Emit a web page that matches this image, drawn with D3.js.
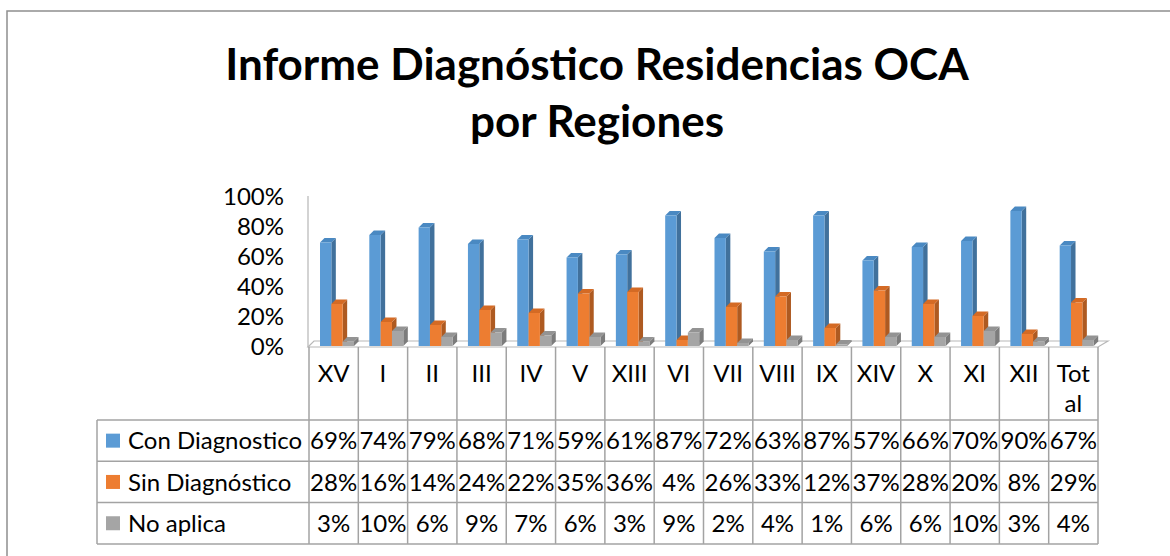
<!DOCTYPE html>
<html>
<head>
<meta charset="utf-8">
<script src="https://cdn.jsdelivr.net/npm/d3@7"></script>
<style>
  body { margin: 0; background: #fff; }
  svg text { font-family: Lato, "Open Sans", sans-serif; fill: #000; }
</style>
</head>
<body>
<div class="content"></div>
<script>
const regions = ["XV", "I", "II", "III", "IV", "V", "XIII", "VI", "VII", "VIII", "IX", "XIV", "X", "XI", "XII", "Total"];
const seriesNames = ["Con Diagnostico", "Sin Diagnóstico", "No aplica"];
const conDiag = [69, 74, 79, 68, 71, 59, 61, 87, 72, 63, 87, 57, 66, 70, 90, 67];
const sinDiag = [28, 16, 14, 24, 22, 35, 36, 4, 26, 33, 12, 37, 28, 20, 8, 29];
const noAplica = [3, 10, 6, 9, 7, 6, 3, 9, 2, 4, 1, 6, 6, 10, 3, 4];
const yTicks = [0, 20, 40, 60, 80, 100];

const seriesValues = [conDiag, sinDiag, noAplica];
const colors = ["#5B9BD5", "#ED7D31", "#A5A5A5"];
const sideColors = ["#41719C", "#AE5A21", "#7C7C7C"];
const topColors = ["#4A89C2", "#D46A24", "#939393"];

const W = 1170, H = 556;
const plotLeft = 309, plotRight = 1098;
const yTop = 196, yBase = 346;
const depth = 4.5;
const fs = "24px";

const svg = d3.select(".content").append("svg")
  .attr("width", W).attr("height", H);

//--> outer chart border
svg.append("rect")
  .attr("x", 7).attr("y", 11)
  .attr("width", W + 20).attr("height", H + 20)
  .attr("fill", "none").attr("stroke", "#8f8f8f").attr("stroke-width", 1.5);

//--> title
const title = svg.append("text")
  .attr("text-anchor", "middle")
  .style("font-weight", "bold")
  .style("font-size", "44px");
title.append("tspan").attr("x", 597).attr("y", 80).text("Informe Diagnóstico Residencias OCA");
title.append("tspan").attr("x", 597).attr("y", 137).text("por Regiones");

//--> scales
const x0 = d3.scaleBand().domain(regions).range([plotLeft, plotRight]);
const x1 = d3.scaleBand().domain(seriesNames).range([11, 45]);
const y = d3.scaleLinear().domain([0, 100]).range([yBase, yTop]);

//--> y axis labels
const yAxis = d3.axisLeft(y).tickValues(yTicks).tickSize(0).tickPadding(0)
  .tickFormat(d => d + "%");
const yG = svg.append("g").attr("transform", `translate(284,0)`).call(yAxis);
yG.select(".domain").remove();
yG.selectAll("text").style("font-size", fs).attr("dy", "0.35em");

//--> axis wall line + floor
svg.append("line")
  .attr("x1", plotLeft - 1).attr("x2", plotLeft - 1)
  .attr("y1", yTop).attr("y2", yBase + 1)
  .attr("stroke", "#c4c4c4").attr("stroke-width", 1.5);
svg.append("path")
  .attr("d", `M${plotLeft - 1},${yBase + 1} L${plotLeft + 5},${yBase - 5} L${plotRight + 10},${yBase - 5} L${plotRight},${yBase + 1} Z`)
  .attr("fill", "#fff").attr("stroke", "#b8b8b8").attr("stroke-width", 1.2);

//--> bars (pseudo 3D)
const barsData = [];
regions.forEach((r, i) => {
  seriesNames.forEach((s, j) => {
    barsData.push({ region: r, series: s, idx: j, value: seriesValues[j][i] });
  });
});
const bw = x1.bandwidth();
const bars = svg.append("g").selectAll("g.bar").data(barsData).enter()
  .append("g").attr("class", "bar")
  .attr("transform", d => `translate(${x0(d.region) + x1(d.series)},0)`);

bars.append("path")
  .attr("d", d => {
    const t = y(d.value);
    return `M${bw},${t} L${bw + depth},${t - depth} L${bw + depth},${yBase - depth} L${bw},${yBase} Z`;
  })
  .attr("fill", d => sideColors[d.idx]);
bars.append("path")
  .attr("d", d => {
    const t = y(d.value);
    return `M0,${t} L${depth},${t - depth} L${bw + depth},${t - depth} L${bw},${t} Z`;
  })
  .attr("fill", d => topColors[d.idx]);
bars.append("rect")
  .attr("x", 0).attr("width", bw)
  .attr("y", d => y(d.value))
  .attr("height", d => yBase - y(d.value))
  .attr("fill", d => colors[d.idx]);

//--> data table
const tableLeft = 97;
const headTop = yBase + 1, headBottom = 420;
const rowH = 41.3;
const gridColor = "#a3a3a3";
const grid = svg.append("g").attr("stroke", gridColor).attr("stroke-width", 1.5);

// vertical column lines
regions.concat(["__end"]).forEach(r => {
  const xx = r === "__end" ? plotRight : x0(r);
  grid.append("line")
    .attr("x1", xx).attr("x2", xx)
    .attr("y1", headTop).attr("y2", headBottom + rowH * 3);
});
// horizontal row lines
[0, 1, 2, 3].forEach(k => {
  grid.append("line")
    .attr("x1", tableLeft).attr("x2", plotRight)
    .attr("y1", headBottom + k * rowH).attr("y2", headBottom + k * rowH);
});
grid.append("line")
  .attr("x1", tableLeft).attr("x2", tableLeft)
  .attr("y1", headBottom).attr("y2", headBottom + rowH * 3);

// category labels
const catLabels = svg.append("g").selectAll("text").data(regions).enter()
  .append("text")
  .attr("text-anchor", "middle")
  .style("font-size", fs)
  .attr("x", d => x0(d) + x0.bandwidth() / 2)
  .attr("y", 382);
catLabels.each(function (d) {
  const t = d3.select(this);
  if (d === "Total") {
    t.append("tspan").attr("x", t.attr("x")).attr("y", 382).text("Tot");
    t.append("tspan").attr("x", t.attr("x")).attr("y", 412).text("al");
  } else {
    t.text(d);
  }
});

// series rows
seriesNames.forEach((s, j) => {
  const cy = headBottom + j * rowH + rowH / 2;
  svg.append("rect")
    .attr("x", 106).attr("y", cy - 7)
    .attr("width", 14).attr("height", 14)
    .attr("fill", colors[j]);
  svg.append("text")
    .attr("x", 128).attr("y", cy).attr("dy", "0.36em")
    .style("font-size", fs)
    .text(s);
  svg.append("g").selectAll("text").data(regions).enter()
    .append("text")
    .attr("text-anchor", "middle")
    .attr("x", d => x0(d) + x0.bandwidth() / 2)
    .attr("y", cy).attr("dy", "0.36em")
    .style("font-size", fs)
    .text((d, i) => seriesValues[j][i] + "%");
});
</script>
</body>
</html>
